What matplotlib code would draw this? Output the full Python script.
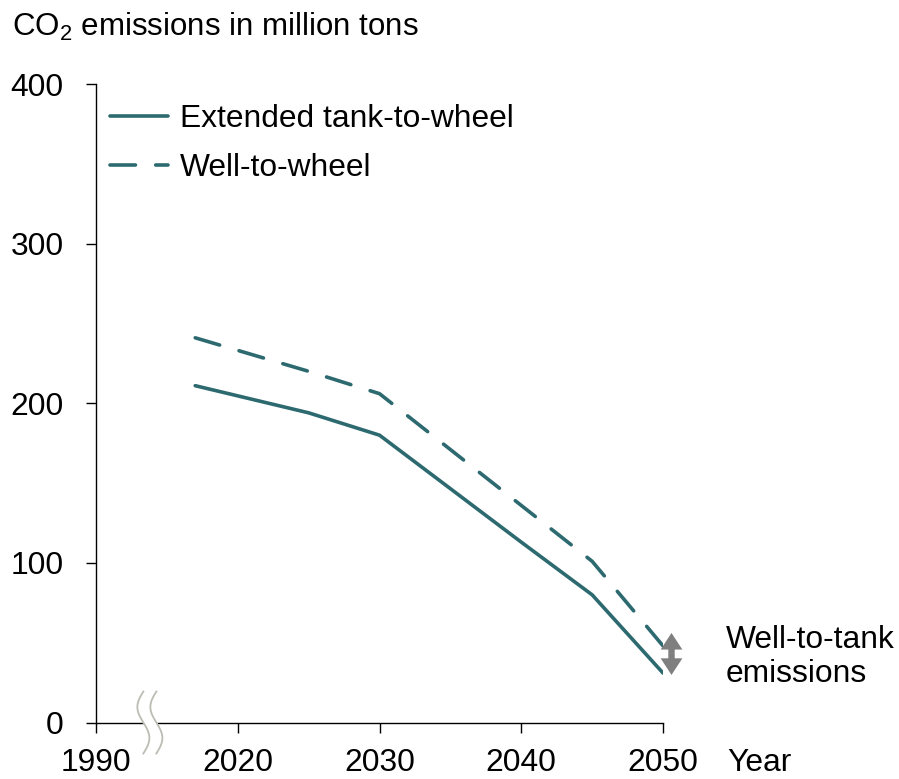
import numpy as np
import matplotlib
matplotlib.use("Agg")
import matplotlib.pyplot as plt
import matplotlib.transforms as mtransforms

plt.rcParams['font.family'] = ['Liberation Sans', 'DejaVu Sans']
plt.rcParams['mathtext.fontset'] = 'custom'
plt.rcParams['mathtext.rm'] = 'Liberation Sans'
plt.rcParams['mathtext.it'] = 'Liberation Sans'

# data (1990 is drawn at position 2010 because of the axis break)
years = [2017, 2025, 2030, 2040, 2045, 2050]
tank_to_wheel = [211, 194, 180, 113, 80, 31]
well_to_wheel = [241, 220, 206, 136, 101, 48]
tick_pos = [2010, 2020, 2030, 2040, 2050]
tick_labels = ['1990', '2020', '2030', '2040', '2050']
y_ticks = [0, 100, 200, 300, 400]

teal = '#2d6a70'
fs = 22.9
lw = 2.6

fig = plt.figure(figsize=(8.99, 7.79), dpi=100)
ax = fig.add_axes([96 / 899, 56.5 / 779, 567 / 899, 638.5 / 779])
ax.set_xlim(2010, 2050)
ax.set_ylim(0, 400)

ax.plot(years, tank_to_wheel, color=teal, lw=lw, solid_capstyle='round',
        label='Extended tank-to-wheel')
wtw_line, = ax.plot(years, well_to_wheel, color=teal, lw=lw, dash_capstyle='round',
                    label='Well-to-wheel')

# stretch the dash pattern a little so the line starts and ends on a dash
pix = ax.transData.transform(np.c_[years, well_to_wheel])
length = np.sum(np.hypot(*np.diff(pix, axis=0).T)) * 72 / fig.dpi / lw
on, off = 6.8, 5.4
n = round((length - on) / (on + off))
k = length / (n * (on + off) + on)
wtw_line.set_dashes((on * k, off * k))

ax.set_xticks(tick_pos)
ax.set_xticklabels(tick_labels)
ax.set_yticks(y_ticks)
for s in ['top', 'right']:
    ax.spines[s].set_visible(False)
for s in ['left', 'bottom']:
    ax.spines[s].set_linewidth(1.0)
ax.tick_params(axis='both', length=7.2, width=1.0, labelsize=fs, direction='out')
ax.tick_params(axis='y', pad=16)
ax.tick_params(axis='x', pad=11)

# axis break marks
def squiggle(dx):
    s = np.linspace(0, 1, 60)
    x = dx - 0.06 * np.sin(2 * np.pi * s)
    y = 0.31 - 0.62 * s
    return x, y

trans = fig.dpi_scale_trans + mtransforms.ScaledTranslation(2013.8, 0, ax.transData)
x1, y1 = squiggle(-0.065)
x2, y2 = squiggle(0.065)
ax.fill(np.r_[x1, x2[::-1]], np.r_[y1, y2[::-1]], color='white', transform=trans,
        clip_on=False, zorder=5)
ax.plot(x1, y1, color='#bcbcb4', lw=1.3, transform=trans, clip_on=False, zorder=6)
ax.plot(x2, y2, color='#bcbcb4', lw=1.3, transform=trans, clip_on=False, zorder=6)

# well-to-tank double arrow, drawn as two filled arrows from the middle
arrow_x = 2050.6
arrow_lo, arrow_hi = 29.8, 56.1
arrow_mid = (arrow_lo + arrow_hi) / 2
for tip in (arrow_lo, arrow_hi):
    ax.annotate('', xy=(arrow_x, tip), xytext=(arrow_x, arrow_mid),
                arrowprops=dict(arrowstyle='simple,head_length=0.52,head_width=0.68,tail_width=0.2',
                                fc='#7f7f7f', ec='none', lw=0, shrinkA=0, shrinkB=0,
                                mutation_scale=23),
                annotation_clip=False)
ax.text(2054.4, 41, 'Well-to-tank\nemissions', fontsize=fs, va='center', ha='left',
        linespacing=1.15)

# same top as the x tick labels: tick length + pad below the axis
ax.text(1.113, 0, 'Year', fontsize=fs, va='top', ha='left',
        transform=ax.transAxes + mtransforms.ScaledTranslation(0, -(7.2 + 11) / 72,
                                                               fig.dpi_scale_trans))

fig.text(12 / 899, 1 - 36 / 779, r'CO$_{2}$ emissions in million tons', fontsize=22.5,
         va='baseline', ha='left')

ax.legend(loc='upper left', bbox_to_anchor=(0.0247, 0.9686), frameon=False, fontsize=fs,
          handlelength=1.83, handletextpad=0.37, labelspacing=0.6, borderpad=0,
          borderaxespad=0)

fig.savefig('out.png', dpi=100)
